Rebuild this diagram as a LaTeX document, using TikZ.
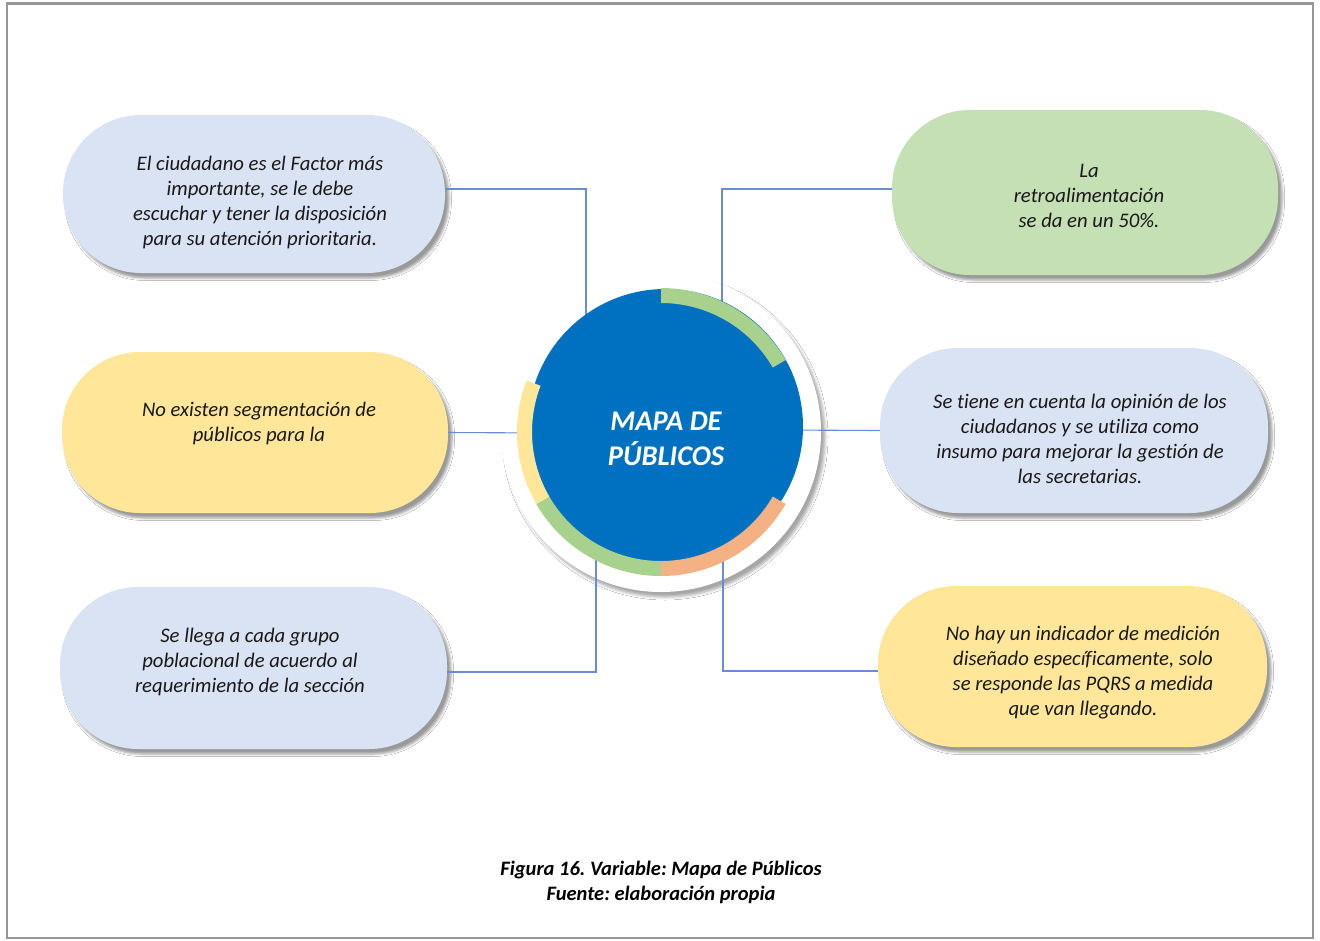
\documentclass[tikz,border=0pt]{standalone}
\usepackage{fontspec}
\setmainfont{Carlito}[Ligatures=NoCommon]
\usetikzlibrary{shadows.blur}

\definecolor{boxblue}{RGB}{218,227,243}
\definecolor{boxgreen}{RGB}{197,224,180}
\definecolor{boxyellow}{RGB}{255,230,153}
\definecolor{hubblue}{RGB}{0,112,192}
\definecolor{arcgreen}{RGB}{169,209,142}
\definecolor{arcorange}{RGB}{244,177,131}
\definecolor{arcyellow}{RGB}{255,230,153}
\definecolor{linkblue}{RGB}{105,140,215}
\definecolor{framegray}{RGB}{150,150,150}

\tikzset{
  pill/.style={rectangle, rounded corners=78pt, inner sep=0pt,
    blur shadow={shadow xshift=4pt, shadow yshift=-5pt, shadow blur radius=2.5pt, shadow opacity=40}},
  pilltext/.style={align=center, text=black!90,
    font=\fontsize{20.7}{25}\selectfont\itshape},
  link/.style={draw=linkblue, line width=1.1pt},
}

\begin{document}
\frenchspacing
\begin{tikzpicture}[x=1pt,y=-1pt]
\useasboundingbox (0,0) rectangle (1320,940);
\fill[white] (0,0) rectangle (1320,940);

% page frame
\draw[framegray, line width=2.5pt] (7,3.5) rectangle (1313,938);

% outer boxes
\node[pill, fill=boxblue,   minimum width=382pt, minimum height=158pt] (b1) at (254,194) {};
\node[pill, fill=boxyellow, minimum width=386pt, minimum height=161pt] (b2) at (255,432.5) {};
\node[pill, fill=boxblue,   minimum width=387pt, minimum height=162pt] (b3) at (253.5,668) {};
\node[pill, fill=boxgreen,  minimum width=386pt, minimum height=165pt] (b4) at (1085,192.5) {};
\node[pill, fill=boxblue,   minimum width=388pt, minimum height=165pt] (b5) at (1074,430.5) {};
\node[pill, fill=boxyellow, minimum width=389pt, minimum height=161pt] (b6) at (1072.5,666.5) {};

% box texts
\node[pilltext] (t1) at (260,202) {El ciudadano es el Factor más\\importante, se le debe\\escuchar y tener la disposición\\para su atención prioritaria.};
\node[pilltext] (t2) at (259,423) {No existen segmentación de\\públicos para la};
\node[pilltext] (t3) at (250,662) {Se llega a cada grupo\\poblacional de acuerdo al\\requerimiento de la sección};
\node[pilltext] (t4) at (1089,196) {La\\retroalimentación\\se da en un 50\%.};
\node[pilltext] (t5) at (1080,439) {Se tiene en cuenta la opinión de los\\ciudadanos y se utiliza como\\insumo para mejorar la gestión de\\las secretarias.};
\node[pilltext] (t6) at (1083,673) {No hay un indicador de medición\\diseñado específicamente, solo\\se responde las PQRS a medida\\que van llegando.};

% white disc behind the hub
\node[circle, fill=white, minimum size=320pt, inner sep=0pt,
  blur shadow={shadow xshift=4pt, shadow yshift=-5pt, shadow blur radius=3pt, shadow opacity=35}] (ring) at (661,432) {};

% connector ends hidden under the hub
\coordinate (k1) at (586,340);
\coordinate (k2) at (722,340);
\coordinate (k3) at (545,433);
\coordinate (k4) at (780,430);
\coordinate (k5) at (596,530);
\coordinate (k6) at (723,530);

\draw[link] ([yshift=5pt]b1.east) -| (k1);
\draw[link] ([yshift=3.5pt]b4.west) -| (k2);
\draw[link] (b2.east) -- (k3);
\draw[link] (k4) -- (b5.west);
\draw[link] ([yshift=-4pt]b3.east) -| (k5);
\draw[link] ([yshift=-4.5pt]b6.west) -| (k6);

% hub
\node[circle, fill=hubblue, minimum size=275pt, inner sep=0pt] (hub) at (665.5,426.5) {};

% coloured ring segments
\begin{scope}[shift={(661,432)}, yscale=-1]
  \fill[arcgreen]  (30:129)  arc[start angle=30,  end angle=90,  radius=129] -- (90:144)  arc[start angle=90,  end angle=30,  radius=144] -- cycle;
  \fill[arcorange] (-90:129) arc[start angle=-90, end angle=-30, radius=129] -- (-30:144) arc[start angle=-30, end angle=-90, radius=144] -- cycle;
  \fill[arcgreen]  (210:129) arc[start angle=210, end angle=270, radius=129] -- (270:144) arc[start angle=270, end angle=210, radius=144] -- cycle;
  \fill[arcyellow] (159:129) arc[start angle=159, end angle=210, radius=129] -- (210:144) arc[start angle=210, end angle=159, radius=144] -- cycle;
\end{scope}

\node[align=center, text=white, font=\fontsize{28.5}{35}\selectfont\bfseries\itshape] (title) at (666,439) {MAPA DE\\PÚBLICOS};

% caption
\node[align=center, text=black, font=\fontsize{20.5}{25}\selectfont\bfseries\itshape] (cap) at (661,882) {Figura 16. Variable: Mapa de Públicos\\Fuente: elaboración propia};
\end{tikzpicture}
\end{document}
